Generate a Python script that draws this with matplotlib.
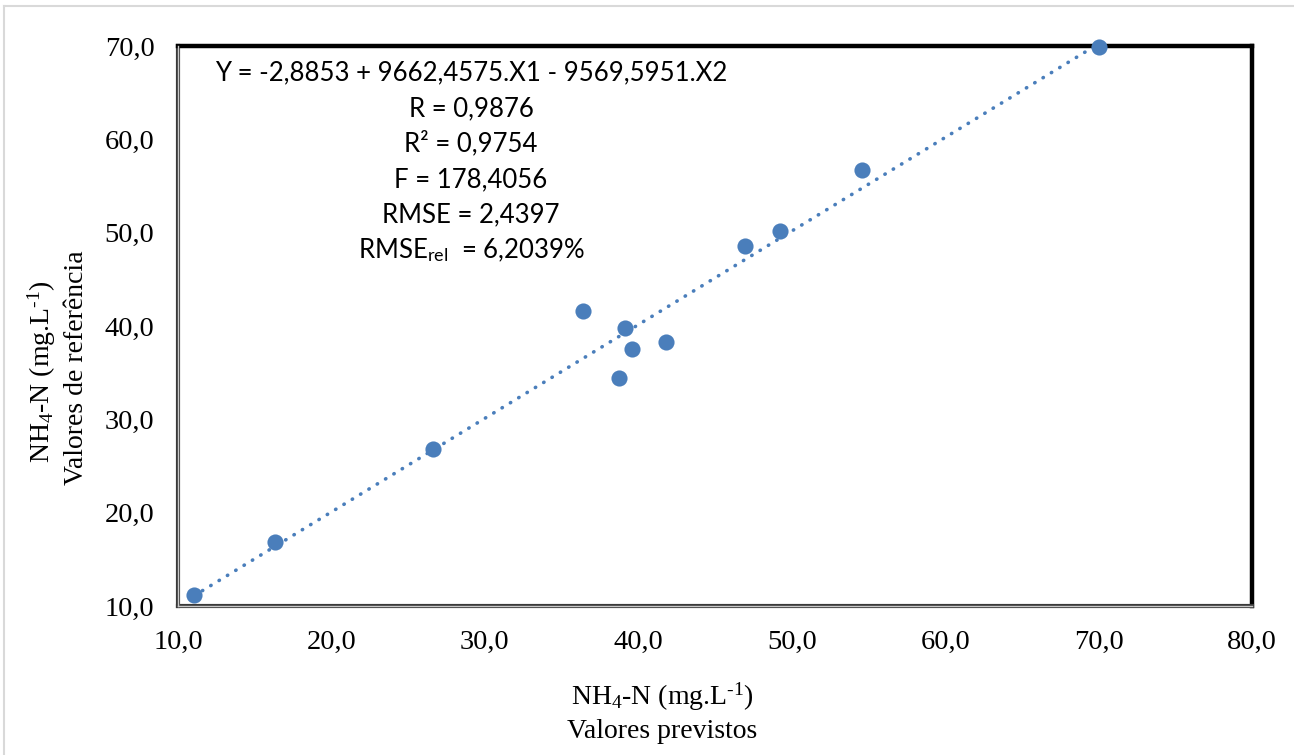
import numpy as np
import matplotlib
matplotlib.use("Agg")
import matplotlib.pyplot as plt
from matplotlib.ticker import FuncFormatter, MultipleLocator
from matplotlib.lines import Line2D

# ---- data ----
predicted = [11.05, 16.34, 26.59, 36.39, 39.13, 39.59, 38.74, 41.81, 46.97, 49.26, 54.55, 70.03]
reference = [11.2, 16.9, 26.85, 41.6, 39.8, 37.55, 34.45, 38.3, 48.58, 50.2, 56.75, 69.9]
x_label = [r"NH$_4$-N (mg.L$^{\text{-}1}$)", "Valores previstos"]
y_label = [r"NH$_4$-N (mg.L$^{\text{-}1}$)", "Valores de referência"]
stats_lines = [
    "Y = -2,8853 + 9662,4575.X1 - 9569,5951.X2",
    "R = 0,9876",
    "R² = 0,9754",
    "F = 178,4056",
    "RMSE = 2,4397",
    r"RMSE$_{\mathsf{rel}}$  = 6,2039%",
]

plt.rcParams["font.family"] = ["Liberation Serif", "DejaVu Serif"]
plt.rcParams["mathtext.fontset"] = "custom"
plt.rcParams["mathtext.rm"] = "Liberation Serif"
plt.rcParams["mathtext.it"] = "Liberation Serif:italic"
plt.rcParams["mathtext.sf"] = "Lato"

W, H = 1294, 755
fig = plt.figure(figsize=(W / 100, H / 100), dpi=100)
ax = fig.add_axes([178 / W, 1 - 606 / H, (1252 - 178) / W, (606 - 46) / H])

blue = "#4A7EBB"
ax.scatter(predicted, reference, s=135, color=blue, zorder=3, clip_on=False, linewidths=0)

# linear trendline
coef = np.polyfit(predicted, reference, 1)
xs = np.array([min(predicted), max(predicted)])
ax.plot(xs, np.polyval(coef, xs), color=blue, lw=2.6, linestyle=(0, (0.1, 2.6)),
        dash_capstyle="round", zorder=2)

ax.set_xlim(10, 80)
ax.set_ylim(10, 70)
ax.xaxis.set_major_locator(MultipleLocator(10))
ax.yaxis.set_major_locator(MultipleLocator(10))
fmt = FuncFormatter(lambda v, p: f"{v:.1f}".replace(".", ","))
ax.xaxis.set_major_formatter(fmt)
ax.yaxis.set_major_formatter(fmt)
ax.tick_params(length=0, labelsize=20.5)
ax.tick_params(axis="y", pad=17)
ax.tick_params(axis="x", pad=17)

# frame: thick black top/right, double line left/bottom
for s in ["top", "right"]:
    ax.spines[s].set_linewidth(3.2)
    ax.spines[s].set_color("black")
for s in ["left", "bottom"]:
    ax.spines[s].set_linewidth(3.0)
    ax.spines[s].set_color("#3a3a3a")
ax.add_line(Line2D([0, 0], [0, 1], transform=ax.transAxes, color="#c8c8c8", lw=1.0, clip_on=False, zorder=5))
ax.add_line(Line2D([0, 1], [0, 0], transform=ax.transAxes, color="#c8c8c8", lw=1.0, clip_on=False, zorder=5))

# stats text
baselines = [80.7, 116.7, 151.7, 187, 222.7, 258]
for txt, b in zip(stats_lines, baselines):
    fig.text(471 / W, 1 - b / H, txt, ha="center", va="baseline", fontsize=18.5,
             family="Lato", color="black")

# axis labels
fig.text(662 / W, 1 - 705 / H, x_label[0], ha="center", va="baseline", fontsize=20)
fig.text(662 / W, 1 - 738 / H, x_label[1], ha="center", va="baseline", fontsize=20)
fig.text(50 / W, 1 - 372 / H, y_label[0], ha="center", va="baseline", rotation=90,
         rotation_mode="anchor", fontsize=20)
fig.text(83 / W, 1 - 368 / H, y_label[1], ha="center", va="baseline", rotation=90,
         rotation_mode="anchor", fontsize=20)

# outer chart border (light gray)
fig.add_artist(Line2D([4 / W, 1], [1 - 6 / H, 1 - 6 / H], transform=fig.transFigure, color="#d9d9d9", lw=1.5))
fig.add_artist(Line2D([4 / W, 4 / W], [0, 1 - 6 / H], transform=fig.transFigure, color="#d9d9d9", lw=1.5))

fig.savefig("out.png", dpi=100)
